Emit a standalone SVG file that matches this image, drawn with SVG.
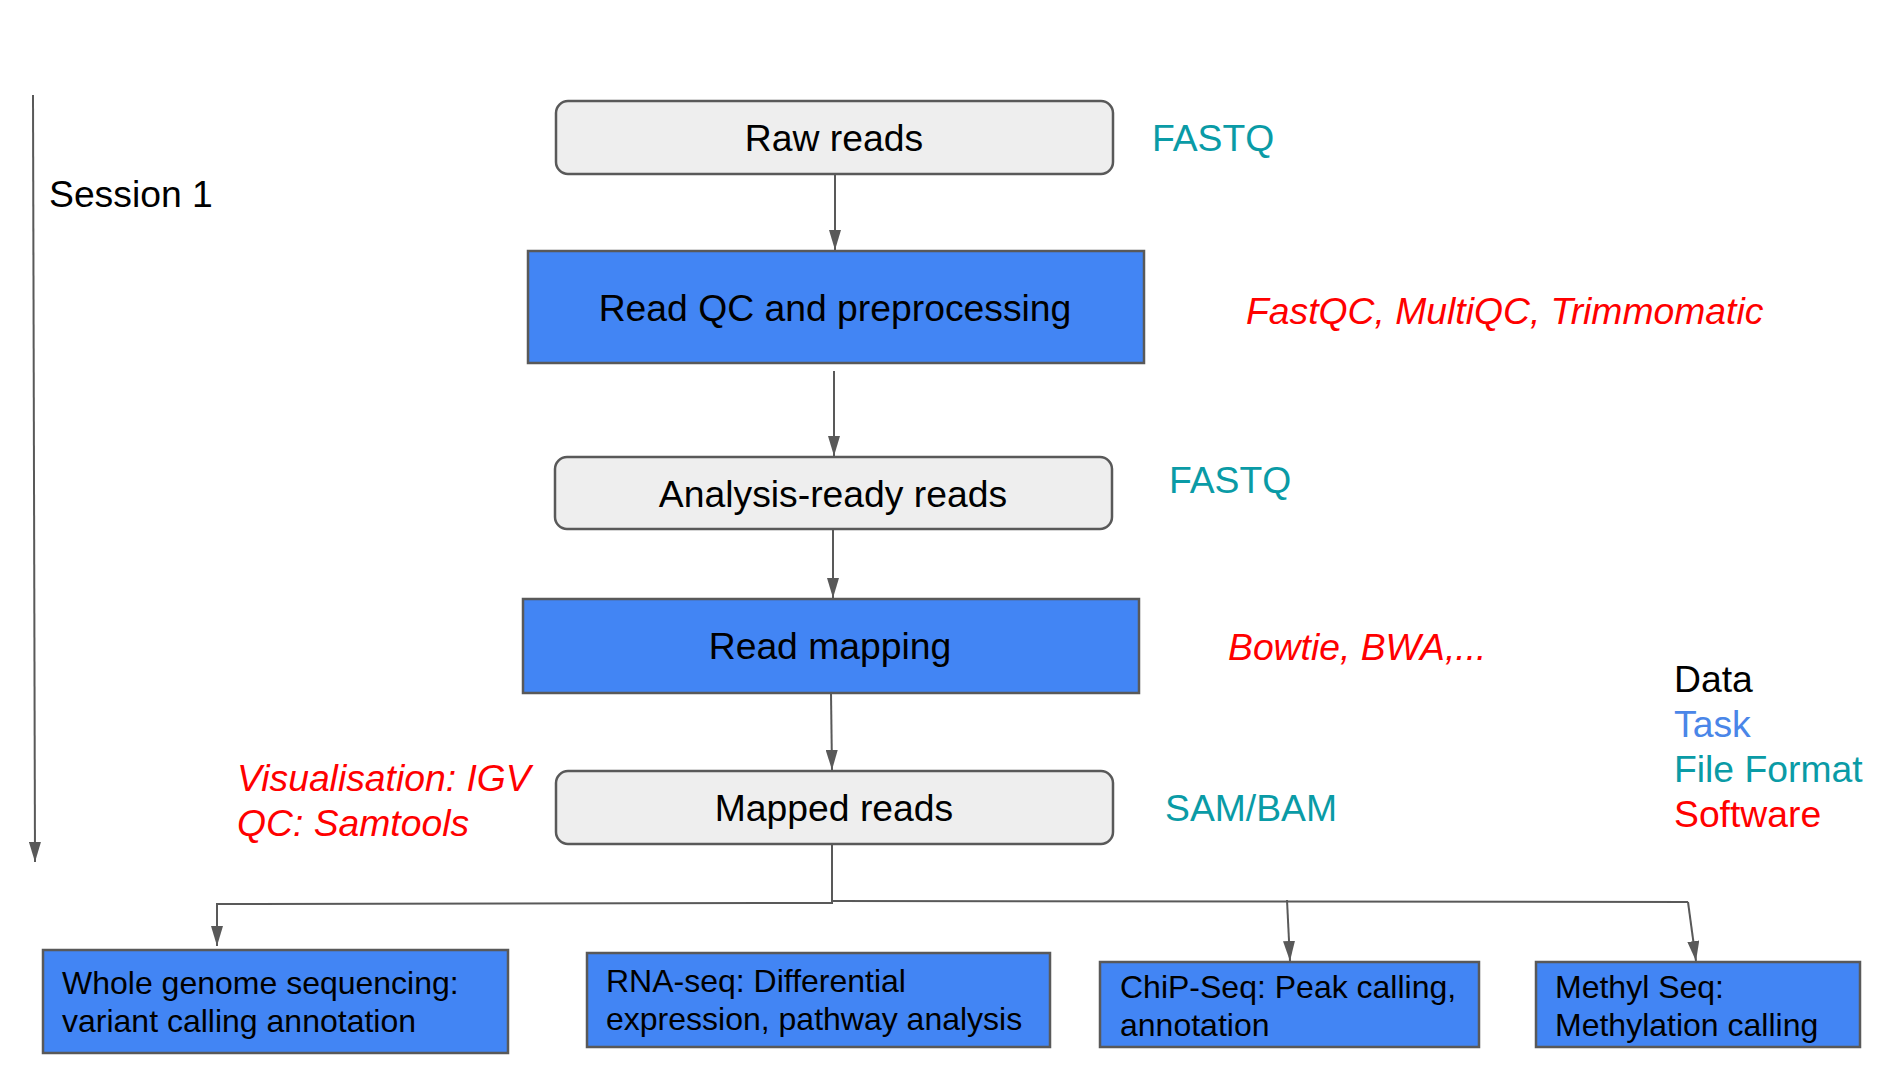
<svg xmlns="http://www.w3.org/2000/svg" width="1904" height="1069" viewBox="0 0 1904 1069">
<style>
text{font-family:"Liberation Sans",Arial,sans-serif;font-size:37.3px;fill:#000}
.data{fill:#eeeeee;stroke:#595959;stroke-width:2.5}
.task{fill:#4285f4;stroke:#595959;stroke-width:2.5}
.fmt{fill:#0a9ba6}
.sw{fill:#ff0000;font-style:italic}
.leg-sw{fill:#ff0000}
.tasklbl{fill:#4a86e8}
.small{font-size:32px}
.c{text-anchor:middle}
.conn{fill:none;stroke:#595959;stroke-width:2}
</style>
<defs>
<marker id="ahd" viewBox="0 0 20 12" refX="20" refY="6" markerWidth="20" markerHeight="12" markerUnits="userSpaceOnUse" orient="auto">
<path d="M0,0 L20,6 L0,12 Z" fill="#595959"/>
</marker>
</defs>
<rect width="1904" height="1069" fill="#fff"/>

<g id="connectors">
<path class="conn" d="M33,95 L35,862" marker-end="url(#ahd)"/>
<path class="conn" d="M835,174 L835,250" marker-end="url(#ahd)"/>
<path class="conn" d="M834,371 L834,456" marker-end="url(#ahd)"/>
<path class="conn" d="M833,529 L833,598" marker-end="url(#ahd)"/>
<path class="conn" d="M831,693 L832,770" marker-end="url(#ahd)"/>
<path class="conn" d="M832,844 L832,903 L217,904 L217,946" marker-end="url(#ahd)"/>
<path class="conn" d="M832,901 L1688,902"/>
<path class="conn" d="M1287,900 L1290,961" marker-end="url(#ahd)"/>
<path class="conn" d="M1688,902 L1696,961" marker-end="url(#ahd)"/>
</g>

<g id="session">
<text x="49" y="207">Session 1</text>
</g>

<g id="raw-reads">
<rect class="data" x="556" y="101" width="557" height="73" rx="12"/>
<text class="c" x="834" y="151">Raw reads</text>
</g>
<g id="fastq-1"><text class="fmt" x="1152" y="151">FASTQ</text></g>

<g id="read-qc">
<rect class="task" x="528" y="251" width="616" height="112"/>
<text class="c" x="835" y="321">Read QC and preprocessing</text>
</g>
<g id="sw-qc"><text class="sw" x="1246" y="324">FastQC, MultiQC, Trimmomatic</text></g>

<g id="analysis-ready">
<rect class="data" x="555" y="457" width="557" height="72" rx="12"/>
<text class="c" x="833" y="507">Analysis-ready reads</text>
</g>
<g id="fastq-2"><text class="fmt" x="1169" y="493">FASTQ</text></g>

<g id="read-mapping">
<rect class="task" x="523" y="599" width="616" height="94"/>
<text class="c" x="830" y="659">Read mapping</text>
</g>
<g id="sw-map"><text class="sw" x="1228" y="660">Bowtie, BWA,...</text></g>

<g id="mapped-reads">
<rect class="data" x="556" y="771" width="557" height="73" rx="12"/>
<text class="c" x="834" y="821">Mapped reads</text>
</g>
<g id="sam-bam"><text class="fmt" x="1165" y="821">SAM/BAM</text></g>
<g id="sw-vis">
<text class="sw" x="237" y="791">Visualisation: IGV</text>
<text class="sw" x="237" y="836">QC: Samtools</text>
</g>

<g id="legend">
<text x="1674" y="692">Data</text>
<text class="tasklbl" x="1674" y="737">Task</text>
<text class="fmt" x="1674" y="782">File Format</text>
<text class="leg-sw" x="1674" y="827">Software</text>
</g>

<g id="wgs">
<rect class="task" x="43" y="950" width="465" height="103"/>
<text class="small" x="62" y="994">Whole genome sequencing:</text>
<text class="small" x="62" y="1032">variant calling annotation</text>
</g>
<g id="rnaseq">
<rect class="task" x="587" y="953" width="463" height="94"/>
<text class="small" x="606" y="992">RNA-seq: Differential</text>
<text class="small" x="606" y="1030">expression, pathway analysis</text>
</g>
<g id="chipseq">
<rect class="task" x="1100" y="962" width="379" height="85"/>
<text class="small" x="1120" y="998">ChiP-Seq: Peak calling,</text>
<text class="small" x="1120" y="1036">annotation</text>
</g>
<g id="methylseq">
<rect class="task" x="1536" y="962" width="324" height="85"/>
<text class="small" x="1555" y="998">Methyl Seq:</text>
<text class="small" x="1555" y="1036">Methylation calling</text>
</g>
</svg>
